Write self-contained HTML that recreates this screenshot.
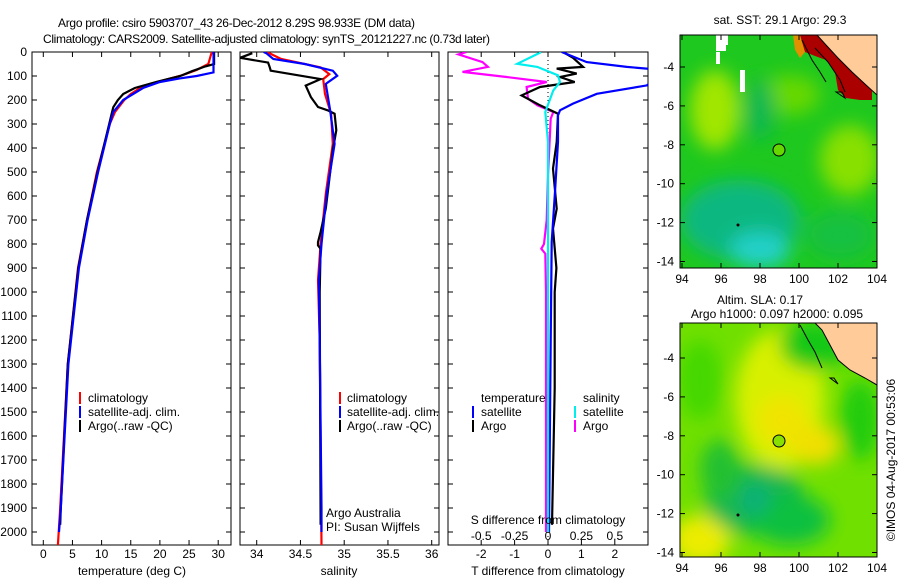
<!DOCTYPE html>
<html><head><meta charset="utf-8"><style>
html,body{margin:0;padding:0;background:#fff;}
svg{display:block;font-family:"Liberation Sans",sans-serif;}
text{font-size:12px;fill:#000;}
</style></head><body>
<svg id="fig" width="900" height="580" viewBox="0 0 900 580" xmlns="http://www.w3.org/2000/svg">
<defs>
<filter id="blur" x="-20%" y="-20%" width="140%" height="140%"><feGaussianBlur stdDeviation="9"/></filter>
<clipPath id="c1"><rect x="32" y="52" width="199" height="493"/></clipPath>
<clipPath id="c2"><rect x="240" y="52" width="199" height="493"/></clipPath>
<clipPath id="c3"><rect x="448" y="52" width="200" height="493"/></clipPath>
<clipPath id="cm1"><rect x="680" y="35" width="197" height="233"/></clipPath>
<clipPath id="cm2"><rect x="680" y="323" width="197" height="234"/></clipPath>
</defs>
<text x="58" y="27" textLength="357" font-size="13">Argo profile: csiro 5903707_43 26-Dec-2012 8.29S 98.933E (DM data)</text>
<text x="43" y="43" textLength="447" font-size="13">Climatology: CARS2009. Satellite-adjusted climatology: synTS_20121227.nc (0.73d later)</text>

<!-- maps -->
<g>
<text x="780" y="24" text-anchor="middle">sat. SST: 29.1  Argo: 29.3</text>
<g clip-path="url(#cm1)">
<rect x="680" y="35" width="197" height="233" fill="#1ec81e"/>
<g filter="url(#blur)">
<ellipse cx="715" cy="110" rx="25" ry="40" fill="#a0e600"/>
<ellipse cx="790" cy="95" rx="30" ry="20" fill="#66d800"/>
<ellipse cx="850" cy="160" rx="30" ry="35" fill="#88e000"/>
<ellipse cx="760" cy="110" rx="15" ry="30" fill="#10b850"/>
<ellipse cx="740" cy="220" rx="60" ry="40" fill="#10b880"/>
<ellipse cx="760" cy="250" rx="30" ry="18" fill="#20d0c8"/>
<ellipse cx="840" cy="235" rx="35" ry="25" fill="#14c040"/>
</g>
<rect x="716" y="35" width="10" height="16" fill="#fff"/>
<rect x="724" y="35" width="4" height="10" fill="#fff"/>
<rect x="740" y="70" width="5" height="22" fill="#fff"/>
<rect x="716" y="52" width="4" height="12" fill="#fff"/>
<polygon points="795,35 817,35 835,55 850,68 862,75 872,85 872,100 860,100 846,98 838,90 835,72 826,60 815,56 805,52 800,45" fill="#aa0000"/>
<polygon points="793,35 800,35 805,52 800,58 795,50" fill="#e09000"/>
<polygon points="817,35 877,35 877,95 866,85 852,72 838,58 826,45" fill="#ffcc99" stroke="#000" stroke-width="1"/>
<path d="M802,40 L812,60 L820,72 L826,82" fill="none" stroke="#000"/>
<path d="M815,48 L828,62 L840,80 L845,92" fill="none" stroke="#000"/>
<path d="M836,92 L845,98 L842,92 Z" fill="none" stroke="#000"/>
<circle cx="779" cy="150" r="6" fill="#66d800" stroke="#000"/>
<circle cx="738" cy="225" r="1.5" fill="#000"/>
</g>
<rect x="680" y="35" width="197" height="233" fill="none" stroke="#000"/>
</g>

<g>
<text x="760" y="304" text-anchor="middle">Altim. SLA: 0.17</text>
<text x="777" y="318" text-anchor="middle">Argo h1000: 0.097 h2000: 0.095</text>
<g clip-path="url(#cm2)">
<rect x="680" y="323" width="197" height="234" fill="#70e000"/>
<g filter="url(#blur)">
<ellipse cx="780" cy="400" rx="45" ry="70" fill="#d8f000"/>
<ellipse cx="782" cy="420" rx="25" ry="25" fill="#f0e400"/>
<ellipse cx="815" cy="445" rx="25" ry="20" fill="#f0e000"/>
<ellipse cx="700" cy="540" rx="30" ry="25" fill="#ecec00"/>
<ellipse cx="815" cy="345" rx="35" ry="25" fill="#18c818"/>
<ellipse cx="700" cy="380" rx="22" ry="40" fill="#44d800"/>
<ellipse cx="755" cy="500" rx="50" ry="35" fill="#14b850"/>
<ellipse cx="790" cy="520" rx="40" ry="25" fill="#10c040"/>
<ellipse cx="720" cy="470" rx="20" ry="30" fill="#20c030"/>
<ellipse cx="860" cy="420" rx="20" ry="40" fill="#20cc10"/>
<ellipse cx="755" cy="500" rx="15" ry="15" fill="#10b07a"/>
</g>
<polygon points="815,323 877,323 877,385 865,378 850,370 838,360 830,345 822,330" fill="#ffcc99" stroke="#000"/>
<path d="M800,325 L808,340 L815,352 L822,368" fill="none" stroke="#000"/>
<path d="M830,378 L838,384 L834,378 Z" fill="none" stroke="#000"/>
<circle cx="779" cy="441" r="6" fill="#88e000" stroke="#000"/>
<circle cx="738" cy="515" r="1.5" fill="#000"/>
</g>
<rect x="680" y="323" width="197" height="234" fill="none" stroke="#000"/>
</g>
<text transform="translate(895,460) rotate(-90)" text-anchor="middle">©IMOS 04-Aug-2017 00:53:06</text>

<g id="axes"></g>
<g id="lines"></g>

<!-- legends -->
<g>
<line x1="80" y1="392" x2="80" y2="404" stroke="#f00" stroke-width="2"/><text x="88" y="402">climatology</text>
<line x1="80" y1="406" x2="80" y2="418" stroke="#00f" stroke-width="2"/><text x="88" y="416">satellite-adj. clim.</text>
<line x1="80" y1="420" x2="80" y2="432" stroke="#000" stroke-width="2"/><text x="88" y="430">Argo(..raw -QC)</text>
</g>
<g>
<line x1="340" y1="392" x2="340" y2="404" stroke="#f00" stroke-width="2"/><text x="347" y="402">climatology</text>
<line x1="340" y1="406" x2="340" y2="418" stroke="#00f" stroke-width="2"/><text x="347" y="416">satellite-adj. clim.</text>
<line x1="340" y1="420" x2="340" y2="432" stroke="#000" stroke-width="2"/><text x="347" y="430">Argo(..raw -QC)</text>
</g>
<g>
<text x="481" y="402">temperature</text><text x="583" y="402">salinity</text>
<line x1="473" y1="406" x2="473" y2="418" stroke="#00f" stroke-width="2"/><text x="481" y="416">satellite</text>
<line x1="473" y1="420" x2="473" y2="432" stroke="#000" stroke-width="2"/><text x="481" y="430">Argo</text>
<line x1="575" y1="406" x2="575" y2="418" stroke="#0ee" stroke-width="2"/><text x="583" y="416">satellite</text>
<line x1="575" y1="420" x2="575" y2="432" stroke="#f0f" stroke-width="2"/><text x="583" y="430">Argo</text>
</g>
<text x="326" y="517">Argo Australia</text>
<text x="326" y="531">PI: Susan Wijffels</text>
<text x="548" y="524" text-anchor="middle">S difference from climatology</text>
<text x="132" y="575" text-anchor="middle">temperature (deg C)</text>
<text x="339" y="575" text-anchor="middle">salinity</text>
<text x="548" y="575" text-anchor="middle">T difference from climatology</text>
</svg>
<script>
// ---- data ----
const depthTicks = [0,100,200,300,400,500,600,700,800,900,1000,1100,1200,1300,1400,1500,1600,1700,1800,1900,2000];
const tempTicks = [0,5,10,15,20,25,30];
const salTicks = [34,34.5,35,35.5,36];
const salTickLabels = ['34','34.5','35','35.5','36'];
const tdTicks = [-2,-1,0,1,2];
const sdTicks = [-0.5,-0.25,0,0.25,0.5];
const sdTickLabels = ['-0.5','-0.25','0','0.25','0.5'];

const tClimDepth = [0,50,75,90,100,125,150,175,200,250,300,500,700,900,1300,1900,2054];
const tClimVal   = [28.9,28.3,26.3,24.6,23.4,19.5,16.6,15.0,13.9,12.3,11.4,9.2,7.5,5.95,4.2,2.9,2.5];
const tSatDepth = [0,85,100,110,125,150,175,200,250,300,500,700,900,1300,1900,2000];
const tSatVal   = [29.2,29.2,26.3,23.4,20.0,17.1,15.4,13.7,12.0,11.4,9.4,7.6,6.1,4.3,3.0,2.7];
const tArgoDepth = [0,50,60,80,100,125,150,175,200,230,260,300,500,700,900,1300,1900,1970];
const tArgoVal   = [29.3,29.3,27.8,25.5,23.5,19.4,15.7,13.7,12.8,12.0,11.7,11.3,9.3,7.5,6.0,4.2,3.0,2.9];

const sClimDepth = [0,8,29,64,92,113,175,258,383,590,800,950,1200,2054];
const sClimVal   = [34.12,34.16,34.28,34.73,34.83,34.76,34.78,34.85,34.87,34.79,34.73,34.70,34.72,34.74];
const sSatDepth = [0,5,29,50,78,99,133,244,383,590,800,950,1200,1900,2000];
const sSatVal   = [34.08,34.11,34.19,34.55,34.87,34.92,34.79,34.84,34.89,34.80,34.74,34.71,34.72,34.74,34.74];
const sArgoDepth = [5,24,44,64,78,113,140,188,229,243,257,326,410,652,750,792,806,820,1000,1970];
const sArgoVal   = [33.95,33.81,34.13,34.15,34.16,34.73,34.56,34.62,34.70,34.81,34.89,34.91,34.87,34.79,34.73,34.70,34.70,34.73,34.72,34.73];

const dTSatDepth = [0,42,62,76,139,174,215,243,264,375,583,792,1200,2000];
const dTSatVal   = [0.41,1.16,2.36,3.5,2.96,1.46,0.75,0.36,0.3,0.3,0.21,0.11,0.08,0.03];
const dTArgoDepth = [0,24,62,69,90,104,125,146,181,222,257,375,486,653,736,900,1000,1400,1970];
const dTArgoVal   = [0.45,0.75,1.05,0.26,0.86,0.36,0.8,-0.24,-0.79,-0.24,0.3,0.26,0.15,0.26,0.15,0.25,0.2,0.2,0.12];
const dSSatDepth = [0,3,49,62,97,125,160,250,375,800,2000];
const dSSatVal   = [-0.06,-0.06,-0.23,-0.08,0.075,0.09,0.04,-0.02,0,0,0];
const dSArgoDepth = [0,10,42,62,83,104,125,146,194,222,250,278,514,700,800,820,840,1000,2000];
const dSArgoVal   = [-0.61,-0.67,-0.49,-0.45,-0.64,-0.31,-0.01,-0.16,-0.15,-0.08,0.04,0.02,0,-0.01,-0.03,-0.05,-0.02,-0.015,-0.015];

// ---- scales ----
const yD = d => 52 + d*0.24;
const xT = t => 43.3 + t*5.83;
const xS = s => 256.7 + (s-34)*87.5;
const xTD = v => 548 + v*33.4;
const xSD = v => 548 + v*133.6;

const NS='http://www.w3.org/2000/svg';
function mk(tag, attrs, parent){const e=document.createElementNS(NS,tag);for(const k in attrs)e.setAttribute(k,attrs[k]);parent.appendChild(e);return e;}
const axes=document.getElementById('axes'), lines=document.getElementById('lines');

const panels=[{x0:32,x1:231,n:'temperature-panel'},{x0:240,x1:439,n:'salinity-panel'},{x0:448,x1:648,n:'difference-panel'}];
panels.forEach(p=>{
  const r=mk('rect',{x:p.x0,y:52,width:p.x1-p.x0,height:493,fill:'none',stroke:'#000'},axes);
  
  
  depthTicks.forEach(d=>{
    mk('line',{x1:p.x0,x2:p.x0+5,y1:yD(d),y2:yD(d),stroke:'#000'},axes);
    mk('line',{x1:p.x1-5,x2:p.x1,y1:yD(d),y2:yD(d),stroke:'#000'},axes);
  });
});
depthTicks.forEach(d=>{
  const t=mk('text',{x:27,y:yD(d)+4,'text-anchor':'end'},axes);
  
  
  t.textContent=d;
});
function xticks(vals,labels,fx,ly){
  vals.forEach((v,i)=>{
    mk('line',{x1:fx(v),x2:fx(v),y1:52,y2:57,stroke:'#000'},axes);
    mk('line',{x1:fx(v),x2:fx(v),y1:540,y2:545,stroke:'#000'},axes);
    if(labels){
      const t=mk('text',{x:fx(v),y:ly,'text-anchor':'middle'},axes);
      
      
      t.textContent=labels[i];
    }
  });
}
xticks(tempTicks,tempTicks.map(String),xT,558);
xticks(salTicks,salTickLabels,xS,558);
xticks(tdTicks,tdTicks.map(String),xTD,558);
sdTicks.forEach((v,i)=>{
  const t=mk('text',{x:xSD(v),y:540,'text-anchor':'middle'},axes);
  
  
  t.textContent=sdTickLabels[i];
});
const z=mk('line',{x1:xTD(0),x2:xTD(0),y1:52,y2:545,stroke:'#000','stroke-dasharray':'1,3'},axes);



function profile(depths,vals,fx,color,clip,name){
  let d='';
  depths.forEach((dd,i)=>{d+=(i?'L':'M')+fx(vals[i]).toFixed(1)+','+yD(dd).toFixed(1);});
  const p=mk('path',{d:d,fill:'none',stroke:color,'stroke-width':2.2,'clip-path':'url(#'+clip+')'},lines);
  
  
}
profile(tClimDepth,tClimVal,xT,'#f00','c1','temperature-climatology-line');
profile(tArgoDepth,tArgoVal,xT,'#000','c1','temperature-argo-line');
profile(tSatDepth,tSatVal,xT,'#00f','c1','temperature-satellite-line');
profile(sClimDepth,sClimVal,xS,'#f00','c2','salinity-climatology-line');
profile(sArgoDepth,sArgoVal,xS,'#000','c2','salinity-argo-line');
profile(sSatDepth,sSatVal,xS,'#00f','c2','salinity-satellite-line');
profile(dSArgoDepth,dSArgoVal,xSD,'#f0f','c3','s-diff-argo-line');
profile(dTArgoDepth,dTArgoVal,xTD,'#000','c3','t-diff-argo-line');
profile(dTSatDepth,dTSatVal,xTD,'#00f','c3','t-diff-satellite-line');
profile(dSSatDepth,dSSatVal,xSD,'#0ee','c3','s-diff-satellite-line');

const latTicks=[-4,-6,-8,-10,-12,-14];
const lonTicks=[94,96,98,100,102,104];
[{y0:35,y1:268,lat4:67,n:'sst'},{y0:323,y1:557,lat4:358,n:'sla'}].forEach(m=>{
  const yL=l=>m.lat4+(-4-l)*19.45;
  const xL=l=>682+(l-94)*19.5;
  latTicks.forEach(l=>{
    mk('line',{x1:680,x2:685,y1:yL(l),y2:yL(l),stroke:'#000'},axes);
    mk('line',{x1:872,x2:877,y1:yL(l),y2:yL(l),stroke:'#000'},axes);
    const t=mk('text',{x:674,y:yL(l)+4,'text-anchor':'end'},axes);
    
    
    t.textContent=l;
  });
  lonTicks.forEach(l=>{
    mk('line',{x1:xL(l),x2:xL(l),y1:m.y0,y2:m.y0+5,stroke:'#000'},axes);
    mk('line',{x1:xL(l),x2:xL(l),y1:m.y1-5,y2:m.y1,stroke:'#000'},axes);
    const t=mk('text',{x:xL(l),y:m.y1+15,'text-anchor':'middle'},axes);
    
    
    t.textContent=l;
  });
});
</script>
</body></html>
